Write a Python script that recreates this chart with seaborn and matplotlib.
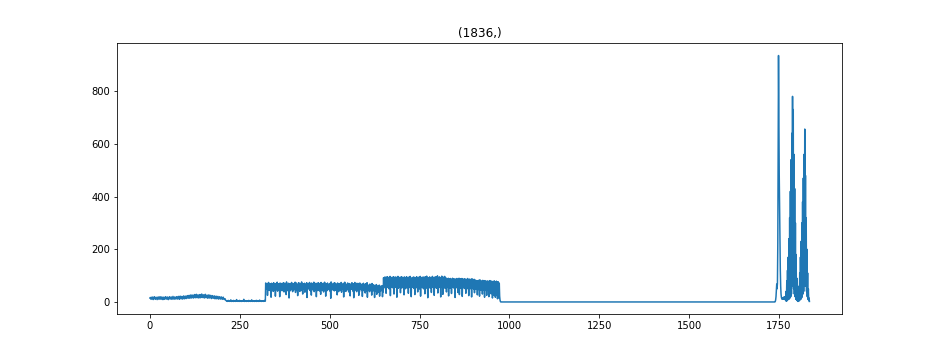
import numpy as np
import pandas as pd
import matplotlib
matplotlib.use("Agg")
import matplotlib.pyplot as plt
import seaborn as sns

# --- data (index 0..1835) ---
# low noisy start (idx 0-212)
seg_start = [
    15, 17, 13, 10, 12, 16, 19, 15, 11, 9,
    12, 17, 20, 16, 12, 10, 14, 18, 15, 11,
    9, 13, 18, 19, 14, 10, 12, 16, 20, 15,
    11, 10, 14, 19, 17, 12, 9, 13, 18, 16,
    12, 10, 15, 20, 17, 13, 11, 14, 19, 16,
    11, 9, 13, 18, 20, 15, 11, 12, 17, 19,
    14, 10, 12, 16, 21, 17, 12, 10, 15, 19,
    16, 12, 11, 15, 20, 18, 13, 11, 14, 21,
    17, 12, 10, 16, 22, 18, 13, 12, 17, 21,
    15, 11, 14, 19, 23, 17, 12, 13, 18, 22,
    17, 13, 16, 22, 24, 18, 14, 15, 21, 25,
    19, 14, 17, 23, 27, 20, 15, 18, 24, 26,
    19, 15, 19, 25, 28, 21, 16, 18, 23, 29,
    22, 16, 19, 26, 27, 20, 15, 19, 25, 28,
    21, 16, 20, 27, 30, 22, 17, 19, 24, 27,
    20, 15, 19, 25, 29, 22, 16, 18, 23, 26,
    19, 14, 18, 24, 27, 20, 15, 17, 22, 25,
    18, 13, 16, 21, 24, 18, 14, 15, 20, 23,
    17, 12, 15, 20, 22, 16, 12, 14, 19, 21,
    15, 11, 14, 18, 20, 15, 11, 13, 17, 19,
    14, 10, 12, 16, 18, 13, 10, 11, 9, 12,
    8, 6, 5,
]

# quiet part (idx 213-321)
seg_quiet = [
    4, 3, 5, 2, 4, 6, 3, 4, 2, 5,
    3, 4, 8, 3, 2, 4, 5, 3, 4, 2,
    6, 3, 4, 3, 5, 2, 4, 3, 9, 4,
    3, 5, 2, 4, 3, 4, 6, 2, 3, 5,
    4, 3, 2, 4, 3, 5, 3, 4, 10, 3,
    2, 4, 5, 3, 4, 2, 3, 5, 4, 3,
    4, 2, 6, 3, 4, 3, 5, 2, 4, 3,
    8, 4, 3, 2, 5, 4, 3, 4, 2, 3,
    5, 4, 3, 6, 2, 4, 3, 5, 4, 3,
    2, 4, 7, 3, 4, 5, 3, 2, 4, 3,
    4, 3, 5, 2, 4, 3, 6, 4, 3,
]

# middle band (idx 322-649)
seg_mid = [
    72, 48, 66, 52, 70, 25, 60, 50, 74, 44, 63, 55, 69, 42, 58, 18,
    71, 46, 65, 50, 68, 40, 73, 53, 61, 44, 70, 22, 57, 47, 67, 51,
    75, 41, 62, 49, 69, 46, 64, 20, 72, 40, 59, 54, 68, 45, 71, 43,
    56, 50, 73, 38, 66, 48, 70, 49, 62, 28, 76, 52, 60, 45, 67, 41,
    71, 15, 64, 41, 69, 50, 58, 46, 74, 53, 63, 39, 70, 44, 61, 48,
    68, 47, 75, 36, 60, 51, 72, 44, 65, 24, 57, 47, 73, 52, 66, 40,
    70, 45, 62, 49, 76, 43, 59, 30, 69, 48, 64, 53, 71, 37, 67, 50,
    58, 45, 73, 17, 65, 48, 70, 52, 61, 50, 74, 44, 63, 41, 68, 26,
    72, 49, 60, 46, 69, 54, 75, 39, 62, 47, 67, 44, 71, 20, 64, 51,
    59, 43, 73, 47, 66, 52, 70, 41, 57, 29, 74, 46, 63, 49, 68, 45,
    71, 38, 61, 50, 75, 45, 64, 22, 69, 48, 60, 43, 72, 53, 66, 47,
    58, 48, 70, 41, 63, 14, 76, 50, 65, 47, 59, 46, 71, 52, 67, 42,
    73, 45, 62, 44, 68, 49, 57, 27, 72, 51, 64, 39, 70, 46, 61, 45,
    69, 50, 74, 37, 60, 48, 66, 48, 71, 19, 58, 42, 75, 53, 63, 40,
    67, 46, 59, 46, 72, 51, 65, 38, 70, 44, 62, 23, 68, 49, 57, 49,
    73, 52, 64, 41, 69, 16, 60, 47, 74, 45, 61, 50, 66, 39, 71, 44,
    58, 47, 70, 25, 63, 40, 72, 48, 65, 51, 59, 44, 68, 21, 62, 43,
    71, 46, 57, 48, 66, 34, 69, 50, 61, 41, 73, 18, 60, 46, 64, 47,
    56, 39, 68, 44, 62, 45, 59, 26, 70, 47, 55, 42, 65, 50, 58, 17,
    63, 43, 57, 40, 66, 29, 54, 44, 61, 46, 59, 36, 64, 22, 56, 41,
    60, 45, 55, 43, 62, 20, 58, 38,
]

# high band (idx 650-975)
seg_high = [
    92, 58, 88, 62, 95, 52, 84, 33, 90, 60, 96, 55, 86, 64, 93, 50,
    89, 61, 97, 24, 85, 57, 91, 63, 94, 54, 87, 59, 96, 30, 90, 56,
    83, 62, 95, 55, 88, 18, 92, 58, 97, 52, 86, 61, 91, 57, 94, 35,
    87, 59, 96, 53, 84, 63, 93, 55, 89, 27, 95, 60, 88, 50, 92, 58,
    96, 54, 85, 62, 91, 33, 94, 57, 87, 61, 97, 52, 90, 20, 86, 59,
    93, 56, 89, 60, 95, 51, 84, 28, 92, 63, 88, 54, 96, 58, 91, 38,
    86, 61, 94, 49, 90, 57, 97, 22, 85, 59, 93, 55, 88, 62, 95, 50,
    91, 58, 87, 31, 96, 54, 89, 60, 98, 52, 84, 16, 92, 57, 90, 63,
    95, 53, 88, 61, 93, 36, 86, 58, 97, 55, 91, 62, 85, 25, 94, 56,
    89, 60, 96, 52, 90, 58, 99, 34, 87, 61, 93, 55, 95, 57, 88, 19,
    92, 56, 98, 62, 86, 29, 94, 55, 90, 59, 97, 52, 85, 60, 91, 38,
    88, 55, 84, 58, 90, 23, 82, 57, 87, 52, 89, 60, 83, 32, 86, 56,
    90, 58, 85, 53, 88, 61, 81, 17, 87, 56, 84, 54, 89, 59, 82, 36,
    86, 54, 90, 28, 83, 57, 88, 52, 85, 59, 89, 21, 82, 55, 87, 58,
    84, 51, 88, 57, 81, 33, 86, 54, 83, 58, 89, 50, 80, 24, 85, 55,
    87, 56, 82, 50, 85, 19, 88, 53, 80, 57, 84, 48, 86, 35, 81, 52,
    83, 48, 78, 52, 81, 27, 76, 50, 82, 47, 79, 22, 84, 51, 77, 45,
    80, 49, 75, 30, 82, 46, 78, 52, 74, 18, 81, 47, 77, 44, 79, 25,
    76, 47, 80, 45, 73, 20, 78, 48, 81, 43, 75, 31, 79, 46, 72, 15,
    78, 44, 74, 26, 80, 42, 76, 18, 73, 45, 79, 25, 75, 12, 77, 30,
    74, 15, 70, 22, 8, 2,
]

# flat zero stretch (idx 976-1738)
seg_flat = [0] * 763

# spike clusters at the end (idx 1739-1835)
seg_peaks = [
    0, 2, 8, 20, 45, 68, 50, 70, 220, 560,
    935, 700, 480, 350, 200, 120, 60, 30, 18, 12,
    15, 10, 14, 12, 18, 10, 15, 20, 12, 8,
    5, 40, 3, 80, 5, 120, 8, 170, 10, 240,
    12, 320, 15, 420, 20, 540, 30, 640, 60, 780,
    80, 730, 50, 560, 30, 430, 20, 300, 10, 180,
    8, 90, 5, 30, 2,
    10, 3, 60, 5, 110, 8, 170, 10, 230, 15,
    300, 20, 380, 30, 470, 40, 560, 60, 656, 80,
    480, 60, 320, 40, 200, 20, 110, 10, 50, 5,
    15, 2,
]

values = np.array(seg_start + seg_quiet + seg_mid + seg_high + seg_flat + seg_peaks, dtype=float)
df = pd.DataFrame({"idx": np.arange(len(values)), "val": values})

fig, ax = plt.subplots(figsize=(13, 5), dpi=72)
fig.subplots_adjust(left=0.125, right=0.9, top=0.88, bottom=0.127)
sns.lineplot(data=df, x="idx", y="val", ax=ax, estimator=None, color="#1f77b4", linewidth=1.5)
ax.set_xlabel("")
ax.set_ylabel("")
ax.set_title(str(values.shape), fontsize=12)
fig.savefig("out.png", dpi=72)
